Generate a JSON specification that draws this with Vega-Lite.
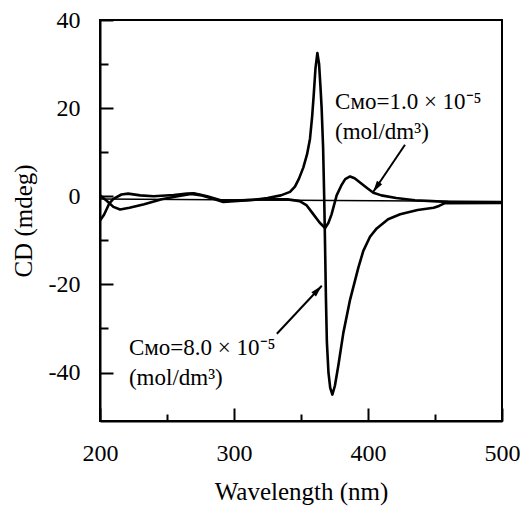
{
  "$schema": "https://vega.github.io/schema/vega-lite/v6.json",
  "autosize": {"type": "none"},
  "padding": {"left": 100, "top": 20, "right": 18, "bottom": 85},
  "width": 402,
  "height": 401,
  "background": "white",
  "config": {
    "font": "Liberation Serif",
    "view": {"stroke": "black", "strokeWidth": 2},
    "axis": {"domainColor": "black", "tickColor": "black", "labelColor": "black", "titleColor": "black", "grid": false, "labelFlush": false}
  },
  "datasets": {
    "curves": [
      {"series": "8.0e-5", "wl": 200, "cd": -5.5},
      {"series": "8.0e-5", "wl": 203, "cd": -4.2},
      {"series": "8.0e-5", "wl": 207, "cd": -1.6},
      {"series": "8.0e-5", "wl": 210, "cd": -0.6},
      {"series": "8.0e-5", "wl": 216, "cd": 0.4},
      {"series": "8.0e-5", "wl": 221, "cd": 0.6},
      {"series": "8.0e-5", "wl": 230, "cd": 0.2},
      {"series": "8.0e-5", "wl": 240, "cd": 0.0},
      {"series": "8.0e-5", "wl": 255, "cd": 0.3},
      {"series": "8.0e-5", "wl": 265, "cd": 0.6},
      {"series": "8.0e-5", "wl": 270, "cd": 0.7},
      {"series": "8.0e-5", "wl": 280, "cd": 0.0},
      {"series": "8.0e-5", "wl": 290, "cd": -0.9},
      {"series": "8.0e-5", "wl": 300, "cd": -1.0},
      {"series": "8.0e-5", "wl": 315, "cd": -0.8},
      {"series": "8.0e-5", "wl": 325, "cd": -0.4},
      {"series": "8.0e-5", "wl": 335, "cd": 0.2},
      {"series": "8.0e-5", "wl": 341.8, "cd": 1.0},
      {"series": "8.0e-5", "wl": 345.5, "cd": 2.2},
      {"series": "8.0e-5", "wl": 348.5, "cd": 4.0},
      {"series": "8.0e-5", "wl": 351.7, "cd": 6.5},
      {"series": "8.0e-5", "wl": 354.5, "cd": 9.5},
      {"series": "8.0e-5", "wl": 356.7, "cd": 13.0},
      {"series": "8.0e-5", "wl": 358.3, "cd": 18.0},
      {"series": "8.0e-5", "wl": 359.5, "cd": 23.0},
      {"series": "8.0e-5", "wl": 360.8, "cd": 29.0},
      {"series": "8.0e-5", "wl": 362.2, "cd": 32.5},
      {"series": "8.0e-5", "wl": 363.5, "cd": 30.0},
      {"series": "8.0e-5", "wl": 364.5, "cd": 25.0},
      {"series": "8.0e-5", "wl": 365.4, "cd": 20.0},
      {"series": "8.0e-5", "wl": 366.5, "cd": 11.0},
      {"series": "8.0e-5", "wl": 367.3, "cd": 0.0},
      {"series": "8.0e-5", "wl": 368.0, "cd": -12.0},
      {"series": "8.0e-5", "wl": 368.6, "cd": -23.0},
      {"series": "8.0e-5", "wl": 369.3, "cd": -33.0},
      {"series": "8.0e-5", "wl": 370.5, "cd": -40.0},
      {"series": "8.0e-5", "wl": 371.8, "cd": -43.5},
      {"series": "8.0e-5", "wl": 373.4, "cd": -45.0},
      {"series": "8.0e-5", "wl": 375.3, "cd": -43.0},
      {"series": "8.0e-5", "wl": 377.8, "cd": -38.5},
      {"series": "8.0e-5", "wl": 381.6, "cd": -31.0},
      {"series": "8.0e-5", "wl": 386.6, "cd": -23.5},
      {"series": "8.0e-5", "wl": 392.8, "cd": -16.2},
      {"series": "8.0e-5", "wl": 396.5, "cd": -12.4},
      {"series": "8.0e-5", "wl": 401.5, "cd": -9.2},
      {"series": "8.0e-5", "wl": 406.5, "cd": -7.3},
      {"series": "8.0e-5", "wl": 415, "cd": -5.2},
      {"series": "8.0e-5", "wl": 424, "cd": -4.1},
      {"series": "8.0e-5", "wl": 437, "cd": -3.1},
      {"series": "8.0e-5", "wl": 449, "cd": -2.6},
      {"series": "8.0e-5", "wl": 453, "cd": -2.2},
      {"series": "8.0e-5", "wl": 457, "cd": -1.6},
      {"series": "8.0e-5", "wl": 500, "cd": -1.5},
      {"series": "1.0e-5", "wl": 200, "cd": 0.2},
      {"series": "1.0e-5", "wl": 205, "cd": -1.0},
      {"series": "1.0e-5", "wl": 210, "cd": -2.4},
      {"series": "1.0e-5", "wl": 215, "cd": -3.0},
      {"series": "1.0e-5", "wl": 222, "cd": -2.6},
      {"series": "1.0e-5", "wl": 233, "cd": -1.8},
      {"series": "1.0e-5", "wl": 246, "cd": -0.7},
      {"series": "1.0e-5", "wl": 258, "cd": 0.0},
      {"series": "1.0e-5", "wl": 268, "cd": 0.5},
      {"series": "1.0e-5", "wl": 276, "cd": 0.2},
      {"series": "1.0e-5", "wl": 285, "cd": -0.6},
      {"series": "1.0e-5", "wl": 292, "cd": -1.3},
      {"series": "1.0e-5", "wl": 300, "cd": -1.1},
      {"series": "1.0e-5", "wl": 320, "cd": -0.7},
      {"series": "1.0e-5", "wl": 340, "cd": -0.7},
      {"series": "1.0e-5", "wl": 349, "cd": -1.1},
      {"series": "1.0e-5", "wl": 354, "cd": -2.0},
      {"series": "1.0e-5", "wl": 359, "cd": -4.0},
      {"series": "1.0e-5", "wl": 364, "cd": -6.0},
      {"series": "1.0e-5", "wl": 368, "cd": -7.2},
      {"series": "1.0e-5", "wl": 370.5, "cd": -6.0},
      {"series": "1.0e-5", "wl": 372.8, "cd": -4.1},
      {"series": "1.0e-5", "wl": 376.6, "cd": 0.2},
      {"series": "1.0e-5", "wl": 380, "cd": 2.4},
      {"series": "1.0e-5", "wl": 383, "cd": 3.9},
      {"series": "1.0e-5", "wl": 386.6, "cd": 4.5},
      {"series": "1.0e-5", "wl": 390, "cd": 4.1},
      {"series": "1.0e-5", "wl": 395, "cd": 2.9},
      {"series": "1.0e-5", "wl": 400, "cd": 1.7},
      {"series": "1.0e-5", "wl": 404, "cd": 0.8},
      {"series": "1.0e-5", "wl": 410, "cd": 0.2},
      {"series": "1.0e-5", "wl": 421, "cd": -0.4},
      {"series": "1.0e-5", "wl": 435, "cd": -0.9},
      {"series": "1.0e-5", "wl": 448, "cd": -1.1},
      {"series": "1.0e-5", "wl": 460, "cd": -1.3},
      {"series": "1.0e-5", "wl": 500, "cd": -1.4},
      {"series": "baseline", "wl": 200, "cd": -0.6},
      {"series": "baseline", "wl": 500, "cd": -1.2}
    ],
    "labels": [
      {"wl": 375.4, "cd": 21.4, "text": "Cᴍᴏ=1.0 × 10⁻⁵"},
      {"wl": 375.4, "cd": 14.6, "text": "(mol/dm³)"},
      {"wl": 221.6, "cd": -34.5, "text": "Cᴍᴏ=8.0 × 10⁻⁵"},
      {"wl": 221.6, "cd": -41.3, "text": "(mol/dm³)"}
    ],
    "arrow1": [{"wl": 427.6, "cd": 11.7, "wl2": 403.7, "cd2": 0.9}],
    "arrow2": [{"wl": 332, "cd": -31.2, "wl2": 365.5, "cd2": -20.3}]
  },
  "layer": [
    {
      "data": {"name": "curves"},
      "transform": [{"filter": "datum.series === 'baseline'"}],
      "mark": {"type": "line", "color": "black", "strokeWidth": 1.5},
      "encoding": {
        "x": {"field": "wl", "type": "quantitative", "scale": {"domain": [200, 500], "nice": false},
          "axis": {"values": [200, 250, 300, 350, 400, 450, 500], "labelExpr": "datum.value % 100 === 0 ? '' + datum.value : ''",
            "title": "Wavelength (nm)", "titleFontSize": 25, "titleFont": "Liberation Serif", "titleFontWeight": "normal", "titlePadding": 14,
            "labelFontSize": 24, "labelFont": "Liberation Serif", "labelPadding": 33, "domainWidth": 2, "tickWidth": 2,
            "tickSize": {"condition": {"test": "datum.value % 100 === 0", "value": -13}, "value": -7}}},
        "y": {"field": "cd", "type": "quantitative", "scale": {"domain": [-51, 40], "nice": false},
          "axis": {"values": [-40, -30, -20, -10, 0, 10, 20, 30, 40], "labelExpr": "datum.value % 20 === 0 ? '' + datum.value : ''",
            "title": "CD (mdeg)", "titleFontSize": 25, "titleFont": "Liberation Serif", "titleFontWeight": "normal", "titlePadding": 12,
            "labelFontSize": 24, "labelFont": "Liberation Serif", "labelPadding": 33, "domainWidth": 2, "tickWidth": 2,
            "tickSize": {"condition": {"test": "datum.value % 20 === 0", "value": -13}, "value": -8}}}
      }
    },
    {
      "data": {"name": "curves"},
      "transform": [{"filter": "datum.series !== 'baseline'"}],
      "mark": {"type": "line", "color": "black", "strokeWidth": 2.6, "strokeJoin": "round"},
      "encoding": {
        "x": {"field": "wl", "type": "quantitative"},
        "y": {"field": "cd", "type": "quantitative"},
        "detail": {"field": "series"}
      }
    },
    {
      "data": {"name": "labels"},
      "mark": {"type": "text", "align": "left", "baseline": "middle", "fontSize": 23, "font": "Liberation Serif", "color": "black"},
      "encoding": {
        "x": {"field": "wl", "type": "quantitative"},
        "y": {"field": "cd", "type": "quantitative"},
        "text": {"field": "text"}
      }
    },
    {
      "data": {"name": "arrow1"},
      "mark": {"type": "rule", "color": "black", "strokeWidth": 2},
      "encoding": {
        "x": {"field": "wl", "type": "quantitative"},
        "y": {"field": "cd", "type": "quantitative"},
        "x2": {"field": "wl2"},
        "y2": {"field": "cd2"}
      }
    },
    {
      "data": {"name": "arrow2"},
      "mark": {"type": "rule", "color": "black", "strokeWidth": 2},
      "encoding": {
        "x": {"field": "wl", "type": "quantitative"},
        "y": {"field": "cd", "type": "quantitative"},
        "x2": {"field": "wl2"},
        "y2": {"field": "cd2"}
      }
    },
    {
      "data": {"name": "arrow1"},
      "mark": {"type": "point", "shape": "M0,0L0.45,1.7L-0.45,1.7Z", "size": 196, "angle": 213.8, "filled": true, "color": "black", "opacity": 1},
      "encoding": {
        "x": {"field": "wl2", "type": "quantitative"},
        "y": {"field": "cd2", "type": "quantitative"}
      }
    },
    {
      "data": {"name": "arrow2"},
      "mark": {"type": "point", "shape": "M0,0L0.45,1.7L-0.45,1.7Z", "size": 196, "angle": 42.9, "filled": true, "color": "black", "opacity": 1},
      "encoding": {
        "x": {"field": "wl2", "type": "quantitative"},
        "y": {"field": "cd2", "type": "quantitative"}
      }
    }
  ]
}
